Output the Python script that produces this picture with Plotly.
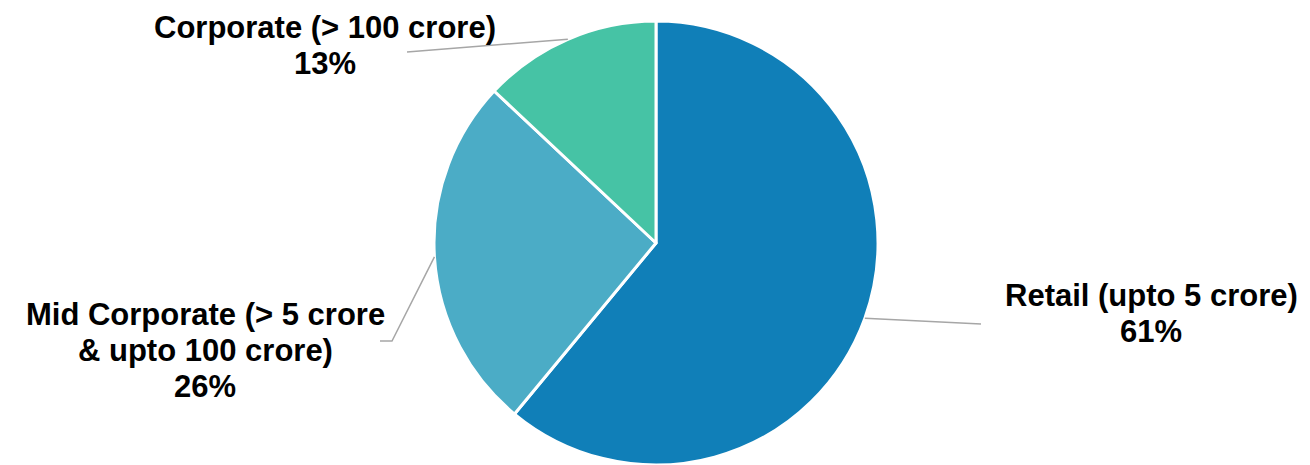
import math
import plotly.graph_objects as go

# Loan book mix by borrower segment
labels = ["Retail (upto 5 crore)", "Mid Corporate (> 5 crore\n& upto 100 crore)", "Corporate (> 100 crore)"]
shares = [61, 26, 13]
colors = ["#107FB8", "#4BACC6", "#46C3A5"]

W, H = 1310, 465
CX, CY, R = 656, 243, 222          # pie centre and radius in pixels
FONT = "Liberation Sans, Arial, sans-serif"
FSIZE = 31
LINE_GAP = 36

# label block centres and leader-line elbows (pixels)
label_centres = [(1151, 313), (205, 350), (325, 45)]
leader_paths = [
    [(981, 324)],
    [(392, 341), (380, 341)],
    [(407, 52)],
]


def px(x):
    return x / W


def py(y):
    return 1 - y / H


fig = go.Figure(
    go.Pie(
        labels=[l.replace("\n", " ") for l in labels],
        values=shares,
        sort=False,
        direction="clockwise",
        rotation=0,
        marker=dict(colors=colors, line=dict(color="white", width=3)),
        textinfo="none",
        hoverinfo="label+percent",
        showlegend=False,
        domain=dict(x=[px(CX - R), px(CX + R)], y=[py(CY + R), py(CY - R)]),
    )
)

total = sum(shares)
cum = 0
annotations = []
shapes = []
for lab, val, (lx, ly), elbow in zip(labels, shares, label_centres, leader_paths):
    mid = (cum + val / 2) / total * 2 * math.pi
    cum += val
    sx = CX + R * math.sin(mid)
    sy = CY - R * math.cos(mid)
    pts = [(sx, sy)] + elbow
    path = "M " + " L ".join(f"{px(x)},{py(y)}" for x, y in pts)
    shapes.append(dict(type="path", path=path, xref="paper", yref="paper",
                       line=dict(color="#A6A6A6", width=1.5)))

    pct = round(val / total * 100)
    lines = lab.split("\n") + [f"{pct}%"]
    n = len(lines)
    for i, t in enumerate(lines):
        yy = ly + (i - (n - 1) / 2) * LINE_GAP
        annotations.append(dict(
            text=f"<b>{t}</b>", x=px(lx), y=py(yy), xref="paper", yref="paper",
            xanchor="center", yanchor="middle", showarrow=False,
            font=dict(family=FONT, size=FSIZE, color="#000000"),
        ))

fig.update_layout(
    width=W, height=H,
    margin=dict(l=0, r=0, t=0, b=0),
    paper_bgcolor="white", plot_bgcolor="white",
    annotations=annotations, shapes=shapes,
)

fig.write_html("out.html")
